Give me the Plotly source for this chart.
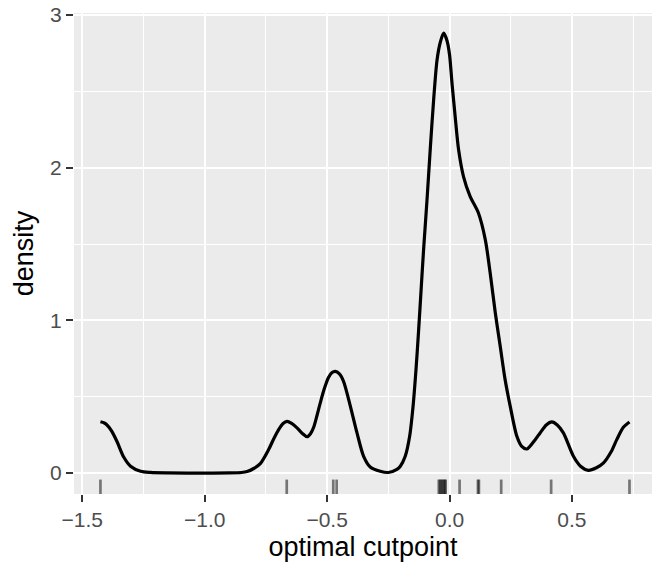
import plotly.graph_objects as go

# Density curve
dens_x = [-1.426, -1.410, -1.395, -1.380, -1.358, -1.331, -1.303, -1.262, -1.222, -1.15, -1.0, -0.90, -0.85,
          -0.827, -0.800, -0.773, -0.739, -0.718, -0.698, -0.680, -0.664, -0.645, -0.623, -0.600,
          -0.582, -0.568, -0.555, -0.528, -0.512, -0.495, -0.480, -0.467, -0.450, -0.433, -0.405,
          -0.378, -0.351, -0.324, -0.283, -0.250, -0.215, -0.201, -0.181, -0.163, -0.149, -0.137,
          -0.127, -0.117, -0.106, -0.092, -0.079, -0.065, -0.051, -0.038, -0.024, -0.010, 0.000,
          0.010, 0.023, 0.037, 0.057, 0.084, 0.118, 0.146, 0.166, 0.187, 0.207, 0.227, 0.248,
          0.275, 0.295, 0.316, 0.350, 0.370, 0.395, 0.418, 0.440, 0.465, 0.506, 0.535, 0.567,
          0.600, 0.629, 0.660, 0.683, 0.710, 0.735]
dens_y = [0.336, 0.328, 0.308, 0.275, 0.205, 0.105, 0.045, 0.012, 0.004, 0.001, 0.000, 0.001, 0.004,
          0.010, 0.030, 0.062, 0.154, 0.225, 0.285, 0.325, 0.339, 0.325, 0.296, 0.258,
          0.238, 0.258, 0.300, 0.460, 0.550, 0.625, 0.658, 0.666, 0.650, 0.601, 0.437,
          0.263, 0.110, 0.040, 0.012, 0.004, 0.025, 0.045, 0.110, 0.241, 0.437, 0.677,
          0.918, 1.179, 1.463, 1.790, 2.117, 2.444, 2.706, 2.820, 2.881, 2.830, 2.740,
          2.554, 2.335, 2.117, 1.942, 1.812, 1.703, 1.529, 1.310, 1.048, 0.830, 0.612, 0.437,
          0.241, 0.175, 0.158, 0.219, 0.263, 0.315, 0.335, 0.315, 0.263, 0.110, 0.045, 0.018,
          0.035, 0.067, 0.140, 0.219, 0.300, 0.335]

# Rug (observed cutpoints)
rug_x = [-1.426, -0.665, -0.475, -0.461, -0.044, -0.039, -0.034, -0.029, -0.024, -0.019, -0.016,
         0.041, 0.116, 0.120, 0.211, 0.415, 0.735]

x_ticks = [-1.5, -1.0, -0.5, 0.0, 0.5]
x_labels = ["\u22121.5", "\u22121.0", "\u22120.5", "0.0", "0.5"]
y_ticks = [0, 1, 2, 3]
y_labels = ["0", "1", "2", "3"]

FONT = "Liberation Sans, Arial, Helvetica, sans-serif"

fig = go.Figure()
fig.add_trace(go.Scatter(x=dens_x, y=dens_y, mode="lines",
                         line=dict(color="black", width=3.2, shape="spline", smoothing=0.8),
                         hoverinfo="skip", showlegend=False))

shapes = []
for xv in rug_x:
    shapes.append(dict(type="line", xref="x", yref="y domain", x0=xv, x1=xv, y0=0, y1=0.03,
                       line=dict(color="rgba(0,0,0,0.5)", width=2.7), layer="above"))

fig.update_layout(
    width=652, height=567,
    margin=dict(l=74, r=0, t=13, b=73),
    paper_bgcolor="white", plot_bgcolor="#EBEBEB",
    shapes=shapes,
    font=dict(family=FONT),
    xaxis=dict(range=[-1.534, 0.827], tickvals=x_ticks, ticktext=x_labels,
               showgrid=True, gridcolor="white", gridwidth=2.2,
               minor=dict(dtick=0.25, tick0=-1.5, showgrid=True, gridcolor="white", gridwidth=1.1, ticks=""),
               ticks="outside", ticklen=7, tickwidth=2, tickcolor="#333333",
               tickfont=dict(size=21, color="#4D4D4D", family=FONT),
               title=dict(text="optimal cutpoint", font=dict(size=27, color="black", family=FONT), standoff=6),
               zeroline=False, showline=False, automargin=False),
    yaxis=dict(range=[-0.137, 3.013], tickvals=y_ticks, ticktext=y_labels,
               showgrid=True, gridcolor="white", gridwidth=2.2,
               minor=dict(dtick=0.5, tick0=0, showgrid=True, gridcolor="white", gridwidth=1.1, ticks=""),
               ticks="outside", ticklen=7, tickwidth=2, tickcolor="#333333",
               tickfont=dict(size=21, color="#4D4D4D", family=FONT),
               title=dict(text="density", font=dict(size=27, color="black", family=FONT), standoff=8),
               zeroline=False, showline=False, automargin=False),
)

fig.write_html("out.html", config={"displayModeBar": False},
               post_script="document.body.style.margin='0';")
